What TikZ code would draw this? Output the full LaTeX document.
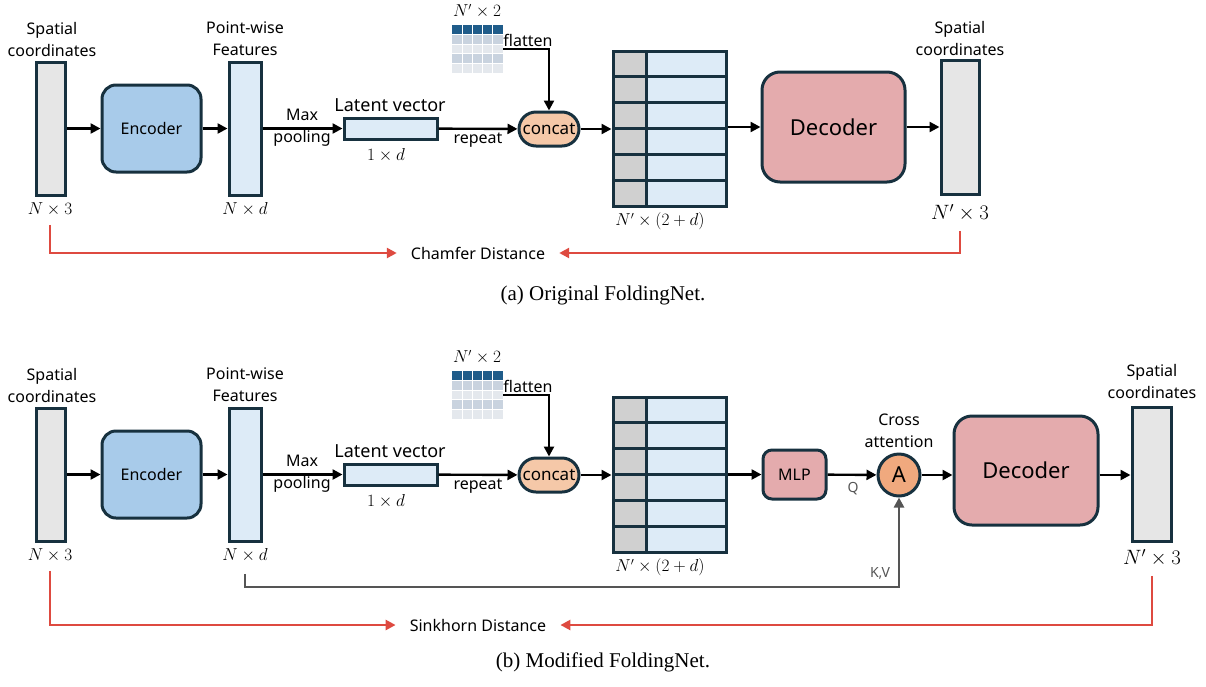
\documentclass[tikz,border=0pt]{standalone}
\usepackage{fontspec}
\setmainfont{Liberation Serif}
\newfontfamily\labfont{Noto Sans}
\usetikzlibrary{arrows.meta}
\definecolor{edge}{HTML}{17313F}
\definecolor{coordgray}{HTML}{E6E6E6}
\definecolor{featblue}{HTML}{DDEBF7}
\definecolor{encblue}{HTML}{A8CBEA}
\definecolor{decpink}{HTML}{E4ABAD}
\definecolor{catpeach}{HTML}{F5C8A8}
\definecolor{attorange}{HTML}{F0A97E}
\definecolor{distred}{HTML}{DE4A40}
\definecolor{kvgray}{HTML}{555555}
\definecolor{cellgray}{HTML}{D0D0D0}
\definecolor{griddark}{HTML}{1F5C8A}
\definecolor{gridmid}{HTML}{C9D3DF}
\definecolor{gridlight}{HTML}{E4E8ED}

\begin{document}
\begin{tikzpicture}[x=1pt,y=-1pt,
	box/.style={draw=edge,line width=3pt,inner sep=0pt},
	lbl/.style={font=\labfont\fontsize{16}{22}\selectfont,align=center,inner sep=0pt},
	dims/.style={inner sep=0pt,font=\fontsize{18}{20}\selectfont},
	flow/.style={line width=2.4pt,-{Triangle[length=10pt,width=10pt]}},
	dist/.style={draw=distred,line width=2.6pt,-{Triangle[length=10pt,width=10pt]},shorten >=14pt},
	kvline/.style={draw=kvgray,line width=2.6pt,-{Triangle[length=10pt,width=10pt]}},
	caption/.style={inner sep=0pt,font=\fontsize{21}{24}\selectfont}]
	\useasboundingbox (0,0) rectangle (1206,686);
	\foreach \p/\dy in {a/0,b/346} {
	\begin{scope}[yshift=-\dy pt]
		\node[box,fill=coordgray,minimum width=29pt,minimum height=133pt] (in\p) at (51,128.5) {};
		\node[lbl] at (52,39) {Spatial\\coordinates};
		\node[dims] (n3\p) at (50,209) {$N\times 3$};
		\node[box,fill=encblue,rounded corners=14pt,minimum width=99pt,minimum height=87pt,font=\labfont\fontsize{16}{20}\selectfont] (enc\p) at (151.5,128.5) {Encoder};
		\node[box,fill=featblue,minimum width=32pt,minimum height=133pt] (feat\p) at (245,128.5) {};
		\node[lbl] at (245,39) {Point-wise\\Features};
		\node[dims] (nd\p) at (245,209) {$N\times d$};
		\node[box,fill=featblue,minimum width=93pt,minimum height=21pt] (lat\p) at (390.5,128.5) {};
		\node[lbl,font=\labfont\fontsize{18}{22}\selectfont] at (390,105) {Latent vector};
		\node[dims] at (386,155) {$1\times d$};
		\node[lbl] at (302,128) {Max\\pooling};
		\node[box,fill=catpeach,rounded corners=17pt,minimum width=60pt,minimum height=34pt,font=\labfont\fontsize{17}{20}\selectfont] (cat\p) at (549,129) {concat};
		\node[lbl] at (478,140) {repeat};
		\foreach \r/\c in {0/griddark,1/gridmid,2/gridlight,3/gridmid,4/gridlight}
			\fill[\c] (452,25+9.6*\r) rectangle ++(51,9.6);
		\foreach \k in {1,...,4} {
			\draw[white,line width=0.8pt] (452+10.2*\k,25) -- ++(0,48);
			\draw[white,line width=0.8pt] (452,25+9.6*\k) -- ++(51,0);
		}
		\node[inner sep=0pt,minimum width=51pt,minimum height=48pt] (grid\p) at (477.5,49) {};
		\node[dims,font=\fontsize{16}{18}\selectfont] at (477,11) {$N'\times 2$};
		\node[lbl] at (528,40) {flatten};
		\fill[featblue] (613,51) rectangle (726,206);
		\fill[cellgray] (613,51) rectangle (646,206);
		\foreach \k in {1,...,5} \draw[edge,line width=3pt] (613,51+25.83*\k) -- (726,51+25.83*\k);
		\draw[edge,line width=3pt] (646,51) -- (646,206);
		\node[box,minimum width=113pt,minimum height=155pt] (mat\p) at (669.5,128.5) {};
		\node[dims,font=\fontsize{16}{18}\selectfont] at (660,221) {$N'\times(2+d)$};
		\draw[flow] (in\p) -- (enc\p);
		\draw[flow] (enc\p) -- (feat\p);
		\draw[flow] (feat\p) -- (lat\p);
		\draw[flow] (lat\p) -- (cat\p);
		\draw[flow] (grid\p.east) -| (cat\p.north);
		\draw[flow] (cat\p) -- (mat\p.west |- cat\p);
	\end{scope}
	}
	\node[box,fill=decpink,rounded corners=18pt,minimum width=143pt,minimum height=110pt,font=\labfont\fontsize{22}{26}\selectfont] (deca) at (833.5,127) {Decoder};
	\node[box,fill=coordgray,minimum width=38pt,minimum height=134pt] (outa) at (960,127) {};
	\node[lbl] at (960,38) {Spatial\\coordinates};
	\node[dims,font=\fontsize{20}{22}\selectfont] (on3a) at (960,213) {$N'\times 3$};
	\draw[flow] (mata.east |- deca) -- (deca);
	\draw[flow] (deca) -- (outa);
	\node[lbl] (dista) at (478,253) {Chamfer Distance};
	\draw[dist] ([yshift=-9pt]n3a.south) |- (dista.west);
	\draw[dist] ([yshift=-9pt]on3a.south) |- (dista.east);
	\node[caption] at (603,295) {(a) Original FoldingNet.};
	\node[box,fill=decpink,rounded corners=9pt,minimum width=63pt,minimum height=49pt,font=\labfont\fontsize{16}{20}\selectfont] (mlpb) at (794.5,474.5) {MLP};
	\node[box,circle,fill=attorange,minimum size=42pt,font=\labfont\fontsize{22}{26}\selectfont] (attb) at (899,475) {A};
	\node[lbl] at (899,431) {Cross\\attention};
	\node[lbl,text=kvgray,font=\labfont\fontsize{14}{16}\selectfont] at (853,489) {Q};
	\node[box,fill=decpink,rounded corners=18pt,minimum width=144pt,minimum height=109pt,font=\labfont\fontsize{22}{26}\selectfont] (decb) at (1026,470.5) {Decoder};
	\node[box,fill=coordgray,minimum width=39pt,minimum height=134pt] (outb) at (1151.5,474) {};
	\node[lbl] at (1152,381) {Spatial\\coordinates};
	\node[dims,font=\fontsize{20}{22}\selectfont] (on3b) at (1152,558) {$N'\times 3$};
	\draw[flow] (matb.east |- mlpb) -- (mlpb);
	\draw[flow] (mlpb) -- (attb);
	\draw[flow] (attb) -- (decb.west |- attb);
	\draw[flow] (decb.east |- attb) -- (outb.west |- attb);
	\draw[kvline] ([yshift=-12pt]ndb.south) -- ++(0,13) -| (attb.south);
	\node[lbl,text=kvgray,font=\labfont\fontsize{14}{16}\selectfont] at (880,573) {K,V};
	\node[lbl] (distb) at (478,625) {Sinkhorn Distance};
	\draw[dist] ([yshift=-9pt]n3b.south) |- (distb.west);
	\draw[dist] ([yshift=-9pt]on3b.south) |- (distb.east);
	\node[caption] at (603,662) {(b) Modified FoldingNet.};
\end{tikzpicture}
\end{document}
